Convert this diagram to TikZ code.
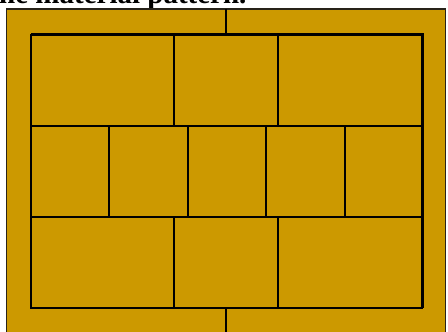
\documentclass[tikz,border=0pt]{standalone}
\usepackage{fontspec}
\setmainfont{Liberation Serif}
\definecolor{gold}{RGB}{204,153,0}
\definecolor{edge}{RGB}{40,35,25}
\begin{document}
\begin{tikzpicture}[x=1pt,y=-1pt,
  cellline/.style={draw=black,line width=1.4pt},
  outerframe/.style={draw=edge,line width=1.2pt,fill=gold}]
\useasboundingbox (0,0) rectangle (448,332);
\clip (0,0) rectangle (448,332);
\node[anchor=base west,inner sep=0pt,font=\bfseries\fontsize{29}{30}\selectfont] (title) at (-1,3.5) {he material pattern.};
% outer frame
\filldraw[outerframe] (6.5,9) rectangle (445.5,345);
% connectors to outer frame
\draw[cellline] (226,9) -- (226,35);
\draw[cellline] (226,308) -- (226,340);
% rows
\draw[cellline] (31,126) -- (422,126);
\draw[cellline] (31,217) -- (422,217);
% row 1 and row 3 dividers
\draw[cellline] (174,35) -- (174,126);
\draw[cellline] (278,35) -- (278,126);
\draw[cellline] (174,217) -- (174,308);
\draw[cellline] (278,217) -- (278,308);
% row 2 dividers
\foreach \xx in {109,188,266,345}
  \draw[cellline] (\xx,126) -- (\xx,217);
% inner frame
\draw[draw=black,line width=1.8pt] (31,35) rectangle (422,308);
\draw[draw=black,line width=1.6pt] (31,34) -- (423,34) -- (423,308);
\end{tikzpicture}
\end{document}
